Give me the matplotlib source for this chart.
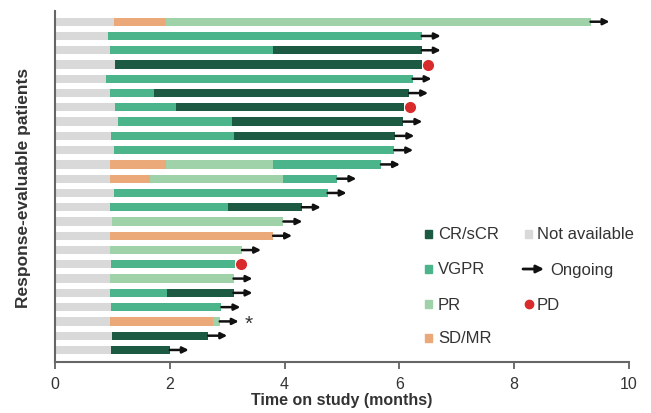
import numpy as np
import matplotlib
matplotlib.use("Agg")
import matplotlib.pyplot as plt
from matplotlib.lines import Line2D

plt.rcParams['font.family'] = ['Liberation Sans', 'DejaVu Sans']

N = np.nan
# patients listed top to bottom
na_end = [1.02, 0.93, 0.96, 1.05, 0.88, 0.95, 1.05, 1.10, 0.97, 1.02, 0.95, 0.95,
          1.03, 0.95, 0.99, 0.96, 0.95, 0.98, 0.96, 0.95, 0.98, 0.96, 1.00, 0.98]
sd_start = [1.02, N, N, N, N, N, N, N, N, N, 0.95, 0.95, N, N, N, 0.96, N, N, N, N, N, 0.96, N, N]
sd_end   = [1.93, N, N, N, N, N, N, N, N, N, 1.93, 1.66, N, N, N, 3.80, N, N, N, N, N, 2.76, N, N]
pr_start = [1.93, N, N, N, N, N, N, N, N, N, 1.93, 1.66, N, N, 0.99, N, 0.95, N, 0.96, N, N, 2.76, N, N]
pr_end   = [9.33, N, N, N, N, N, N, N, N, N, 3.79, 3.98, N, N, 3.98, N, 3.26, N, 3.11, N, N, 2.87, N, N]
vgpr_start = [N, 0.93, 0.96, N, 0.88, 0.95, 1.05, 1.10, 0.97, 1.02, 3.79, 3.98, 1.03, 0.95, N, N, N, 0.98, N, 0.95, 0.98, N, N, N]
vgpr_end   = [N, 6.39, 3.80, N, 6.23, 1.73, 2.10, 3.09, 3.12, 5.91, 5.68, 4.92, 4.75, 3.02, N, N, N, 3.14, N, 1.95, 2.90, N, N, N]
cr_start = [N, N, 3.80, 1.05, N, 1.73, 2.10, 3.09, 3.12, N, N, N, N, 3.02, N, N, N, N, N, 1.95, N, N, 1.00, 0.98]
cr_end   = [N, N, 6.39, 6.40, N, 6.17, 6.08, 6.07, 5.93, N, N, N, N, 4.30, N, N, N, N, N, 3.11, N, N, 2.67, 2.00]
status = ['ongoing', 'ongoing', 'ongoing', 'PD', 'ongoing', 'ongoing', 'PD', 'ongoing',
          'ongoing', 'ongoing', 'ongoing', 'ongoing', 'ongoing', 'ongoing', 'ongoing',
          'ongoing', 'ongoing', 'PD', 'ongoing', 'ongoing', 'ongoing', 'ongoing',
          'ongoing', 'ongoing']
asterisk_rows = [21]

c_na = '#d9d9d9'
c_sd = '#eba878'
c_pr = '#9fd2a8'
c_vgpr = '#4cb48b'
c_cr = '#1d5a44'
c_pd = '#d92b2b'

n = len(na_end)
ypos = np.arange(n, 0, -1)
h = 0.58

fig = plt.figure(figsize=(6.51, 4.14), dpi=100)
ax = fig.add_axes([0.0845, 0.123, 0.8817, 0.848])

ax.barh(ypos, na_end, left=0, height=h, color=c_na, linewidth=0)
for st, en, col in [(sd_start, sd_end, c_sd), (pr_start, pr_end, c_pr),
                    (vgpr_start, vgpr_end, c_vgpr), (cr_start, cr_end, c_cr)]:
    st = np.array(st); en = np.array(en)
    m = ~np.isnan(st)
    ax.barh(ypos[m], en[m] - st[m], left=st[m], height=h, color=col, linewidth=0)

ends = np.nanmax(np.vstack([na_end, sd_end, pr_end, vgpr_end, cr_end]), axis=0)
for i in range(n):
    if status[i] == 'ongoing':
        ax.annotate('', xy=(ends[i] + 0.33, ypos[i]), xytext=(ends[i], ypos[i]),
                    arrowprops=dict(arrowstyle='-|>', color='#111111', lw=1.8,
                                    mutation_scale=9, shrinkA=0, shrinkB=0))
    else:
        ax.plot(ends[i] + 0.1, ypos[i], 'o', color=c_pd, markersize=7, zorder=5)
for i in asterisk_rows:
    ax.text(ends[i] + 0.5, ypos[i] - 0.1, '*', fontsize=15, ha='center', va='center',
            color='#333333')

ax.set_xlim(0, 10)
ax.set_ylim(0.15, 24.75)
ax.set_xticks([0, 2, 4, 6, 8, 10])
ax.set_yticks([])
ax.tick_params(axis='x', direction='out', length=5, width=1.2, colors='#555555',
               labelsize=11.5, labelcolor='#333333', pad=5)
for s in ['top', 'right']:
    ax.spines[s].set_visible(False)
for s in ['left', 'bottom']:
    ax.spines[s].set_color('#666666')
    ax.spines[s].set_linewidth(1.5)
ax.set_xlabel('Time on study (months)', fontsize=11.5, fontweight='bold', color='#333333',
              labelpad=1)
ax.set_ylabel('Response-evaluable patients', fontsize=12.5, fontweight='bold', color='#333333',
              labelpad=17)

# legend (figure pixel layout)
def fx(px):
    return px / 651
def fy(py):
    return 1 - py / 414

leg_rows = [235, 270, 305, 339]
col1 = [('CR/sCR', c_cr), ('VGPR', c_vgpr), ('PR', c_pr), ('SD/MR', c_sd)]
for (lab, col), py in zip(col1, leg_rows):
    fig.patches.append(plt.Rectangle((fx(425), fy(py + 4)), 7 / 651, 8 / 414,
                                     transform=fig.transFigure, color=col, figure=fig))
    fig.text(fx(438), fy(py), lab, fontsize=12, va='center', ha='left', color='#333333')
# not available
fig.patches.append(plt.Rectangle((fx(525), fy(235 + 4)), 7 / 651, 8 / 414,
                                 transform=fig.transFigure, color=c_na, figure=fig))
fig.text(fx(537), fy(235), 'Not available', fontsize=12, va='center', ha='left', color='#333333')
# ongoing
fig.add_artist(matplotlib.patches.FancyArrowPatch((fx(523), fy(270)), (fx(544), fy(270)),
               transform=fig.transFigure, arrowstyle='-|>', color='#111111', lw=2,
               mutation_scale=11, shrinkA=0, shrinkB=0))
fig.text(fx(550), fy(270), 'Ongoing', fontsize=12, va='center', ha='left', color='#333333')
# PD
fig.add_artist(Line2D([fx(528.5)], [fy(305)], marker='o', color=c_pd, markersize=6,
                      transform=fig.transFigure))
fig.text(fx(537), fy(305), 'PD', fontsize=12, va='center', ha='left', color='#333333')

fig.savefig('out.png', dpi=100)
